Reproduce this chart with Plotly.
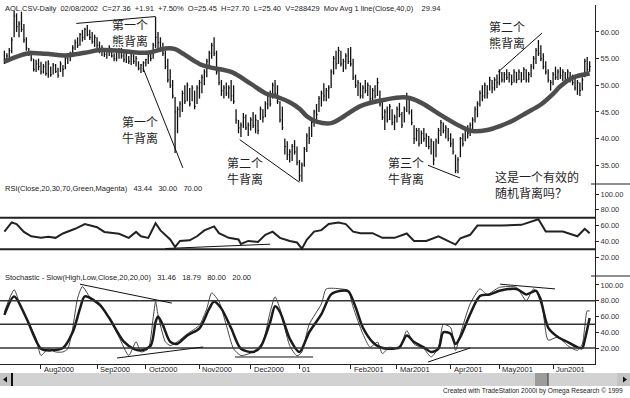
import pandas as pd
import plotly.graph_objects as go

# ---------------- data ----------------
HOLIDAYS = ["2000-09-04", "2000-11-23", "2000-12-25", "2001-01-01",
            "2001-01-15", "2001-02-19", "2001-04-13", "2001-05-28"]
sessions = pd.bdate_range("2000-07-11", periods=241, freq="C", holidays=HOLIDAYS)

month_labels = ["Aug2000", "Sep2000", "Oct2000", "Nov2000", "Dec2000", "01",
                "Feb2001", "Mar2001", "Apr2001", "May2001", "Jun2001"]

high = [
    56.5, 56.0, 57.0, 59.0, 64.0, 63.5, 62.0, 63.8, 61.5, 59.0,
    57.0, 56.5, 55.0, 54.8, 55.0, 54.4, 54.0, 54.5, 54.7, 53.5,
    54.2, 54.0, 53.3, 54.5, 53.8, 55.5, 56.0, 56.3, 57.5, 58.6,
    59.0, 59.8, 60.4, 60.8, 61.3, 60.4, 60.0, 59.5, 59.0, 58.2,
    57.5, 57.0, 56.8, 57.5, 57.0, 56.0, 56.5, 57.0, 57.0, 56.0,
    56.5, 55.5, 56.0, 55.8, 55.5, 54.5, 54.0, 54.5, 55.0, 56.0,
    56.0, 58.0, 62.8, 60.0, 59.0, 58.0, 56.5, 55.0, 53.0, 51.0,
    47.8, 46.0, 47.0, 49.0, 50.0, 50.5, 49.5, 50.0, 49.0, 50.0,
    51.0, 52.0, 53.0, 55.0, 56.5, 58.0, 59.0, 56.5, 53.0, 51.0,
    50.0, 50.5, 50.0, 51.0, 50.0, 45.5, 43.5, 43.0, 44.8, 44.5,
    43.0, 44.0, 45.0, 44.5, 43.5, 46.0, 45.5, 47.0, 48.5, 49.0,
    50.5, 51.0, 50.0, 47.0, 46.0, 40.0, 39.5, 38.0, 39.0, 39.7,
    38.5, 36.0, 35.5, 38.4, 41.0, 42.2, 43.5, 45.4, 46.5, 48.0,
    49.0, 50.4, 49.5, 50.0, 53.0, 55.5, 56.5, 57.2, 56.5, 55.0,
    56.0, 57.0, 57.2, 55.0, 52.0, 51.0, 50.5, 50.0, 51.0, 50.5,
    50.0, 49.5, 50.0, 51.4, 49.0, 47.0, 45.5, 46.0, 46.5, 45.5,
    44.5, 46.0, 46.7, 45.0, 46.0, 48.6, 48.0, 45.5, 42.5, 42.0,
    42.0, 41.5, 42.0, 41.0, 40.5, 40.0, 39.5, 40.0, 42.0, 43.5,
    43.0, 42.5, 42.0, 41.0, 40.0, 37.0, 36.5, 40.3, 41.0, 42.0,
    42.5, 43.0, 44.0, 46.0, 47.0, 49.0, 50.0, 50.5, 50.0, 51.6,
    51.0, 51.5, 52.0, 53.0, 52.5, 52.5, 53.0, 52.5, 52.0, 53.0,
    52.5, 53.0, 52.5, 53.4, 53.0, 52.5, 54.0, 55.5, 57.0, 58.5,
    57.5, 56.0, 54.5, 53.0, 51.0, 52.5, 53.5, 53.0, 53.4, 53.0,
    52.5, 53.0, 52.5, 52.0, 51.5, 51.0, 50.5, 51.5, 55.0, 55.3,
    54.5,
]
low = [
    54.0, 54.3, 54.5, 56.0, 59.0, 60.0, 59.0, 60.0, 58.0, 56.5,
    55.5, 54.5, 52.6, 52.5, 52.8, 52.0, 52.2, 51.8, 51.4, 51.6,
    52.0, 52.3, 51.4, 52.5, 51.6, 53.0, 54.0, 54.5, 55.5, 56.6,
    57.0, 57.4, 58.2, 58.5, 59.2, 58.5, 57.8, 57.2, 57.0, 56.0,
    55.5, 55.3, 55.0, 55.5, 55.2, 54.5, 54.5, 55.0, 55.0, 54.3,
    54.2, 54.0, 53.8, 54.0, 53.5, 52.8, 52.3, 52.5, 53.5, 54.0,
    54.5, 55.0, 57.0, 57.0, 56.5, 55.5, 53.0, 50.5, 49.5, 47.5,
    37.3, 41.0, 44.0, 45.0, 46.5, 47.0, 46.0, 47.0, 45.5, 46.5,
    47.5, 48.5, 50.0, 51.5, 53.5, 55.0, 55.5, 52.0, 50.0, 48.0,
    47.5, 48.0, 47.5, 47.0, 46.5, 42.8, 41.0, 40.3, 42.0, 41.6,
    40.5, 41.5, 42.0, 41.0, 40.8, 43.5, 43.0, 44.0, 45.5, 46.0,
    47.5, 48.0, 46.5, 43.0, 41.6, 37.0, 36.0, 35.5, 35.8, 37.0,
    35.0, 32.0, 31.9, 34.7, 37.5, 39.0, 40.3, 42.2, 43.5, 45.0,
    46.0, 47.0, 47.0, 47.5, 49.5, 52.0, 53.0, 54.0, 53.5, 52.5,
    53.0, 54.0, 53.5, 51.0, 49.5, 48.0, 47.5, 47.5, 48.5, 48.0,
    47.0, 47.0, 47.5, 48.0, 46.0, 43.5, 41.6, 43.0, 43.5, 42.5,
    41.6, 43.0, 44.0, 42.0, 43.0, 45.0, 44.5, 42.5, 39.0, 39.5,
    38.5, 39.0, 39.4, 38.4, 38.0, 37.0, 35.0, 36.5, 39.0, 40.5,
    41.0, 40.0, 39.5, 38.4, 37.0, 33.5, 33.5, 36.5, 38.5, 39.5,
    40.0, 40.5, 41.5, 43.0, 44.0, 46.0, 47.0, 47.5, 47.5, 49.0,
    48.5, 49.0, 49.5, 50.0, 50.5, 50.5, 51.0, 50.5, 50.0, 50.5,
    50.4, 51.0, 50.5, 51.0, 50.5, 50.5, 51.5, 53.0, 54.0, 55.5,
    54.5, 53.0, 52.0, 50.5, 49.0, 50.0, 51.0, 51.0, 51.2, 50.8,
    50.5, 51.0, 50.5, 50.0, 49.0, 48.2, 48.0, 49.0, 51.5, 52.5,
    52.5,
]
close = [
    55.0, 55.5, 56.5, 58.5, 63.0, 61.0, 61.5, 60.5, 58.5, 57.0,
    56.0, 55.0, 53.0, 54.0, 53.5, 52.5, 53.5, 52.2, 54.0, 52.0,
    53.8, 52.6, 51.8, 54.0, 53.0, 55.0, 55.5, 56.0, 57.0, 58.0,
    57.5, 59.5, 59.0, 60.5, 59.5, 59.0, 58.2, 59.0, 57.5, 56.5,
    57.0, 55.8, 56.5, 57.0, 55.5, 55.0, 56.2, 56.5, 55.5, 54.8,
    56.0, 54.5, 55.5, 54.5, 55.0, 53.2, 53.8, 54.2, 54.8, 55.5,
    55.0, 57.5, 59.0, 58.0, 57.0, 56.0, 53.5, 51.0, 50.0, 48.0,
    45.0, 45.5, 46.5, 48.5, 47.0, 50.0, 46.5, 49.5, 46.0, 49.5,
    50.5, 51.5, 52.5, 54.5, 56.0, 57.5, 56.0, 52.5, 50.5, 49.0,
    49.5, 48.5, 49.5, 48.0, 47.0, 43.5, 42.0, 42.5, 44.0, 42.0,
    42.5, 43.5, 42.5, 43.5, 41.5, 45.5, 44.0, 46.5, 48.0, 46.5,
    50.0, 48.5, 47.0, 43.5, 42.0, 38.5, 37.0, 37.5, 38.5, 37.5,
    35.5, 33.0, 35.0, 38.0, 40.5, 40.0, 43.0, 45.0, 44.5, 47.5,
    48.5, 48.0, 49.0, 49.5, 52.5, 55.0, 54.0, 56.5, 54.0, 54.5,
    55.5, 54.5, 54.0, 51.5, 50.0, 50.5, 48.0, 49.5, 49.0, 50.0,
    47.5, 49.0, 48.0, 50.5, 46.5, 44.0, 45.0, 43.5, 46.0, 43.0,
    44.0, 45.5, 44.5, 42.5, 45.5, 47.5, 45.0, 43.0, 40.0, 41.5,
    39.0, 41.0, 40.0, 40.5, 38.5, 39.5, 36.0, 39.5, 41.5, 43.0,
    41.5, 42.0, 40.0, 39.0, 37.5, 34.0, 36.0, 40.0, 39.0, 41.5,
    41.0, 42.5, 43.5, 45.5, 46.5, 48.5, 48.0, 50.0, 48.5, 51.0,
    49.5, 51.0, 50.5, 52.5, 51.0, 52.0, 51.5, 52.0, 50.5, 52.5,
    51.0, 52.5, 51.0, 53.0, 51.0, 52.0, 53.5, 55.0, 56.5, 56.0,
    55.0, 53.5, 52.5, 51.0, 50.5, 52.0, 51.5, 52.5, 51.8, 52.5,
    51.0, 52.5, 51.0, 50.5, 49.5, 50.5, 49.0, 51.0, 54.5, 53.0,
    53.5,
]

# 40-day moving average of the close, read at selected sessions
ma_idx = [0, 4, 10, 17, 25, 33, 39, 47, 56, 60, 66, 70, 73, 80, 84, 93, 101,
          107, 112, 117, 121, 124, 128, 134, 138, 146, 156, 165, 171, 179,
          187, 192, 198, 203, 209, 214, 220, 225, 228, 233, 240]
ma_val = [54.4, 55.2, 56.0, 55.9, 55.6, 56.1, 56.6, 56.5, 56.1, 56.2, 56.9,
          56.8, 56.0, 54.0, 53.4, 52.5, 50.3, 48.5, 47.8, 46.8, 45.6, 44.2,
          43.2, 42.9, 43.8, 46.1, 47.3, 47.7, 46.7, 44.4, 42.3, 41.4, 41.6,
          42.3, 43.5, 44.8, 46.4, 48.4, 49.8, 51.4, 52.2]

# RSI(20)
rsi_idx = [0, 3, 5, 8, 11, 15, 18, 21, 24, 29, 33, 38, 41, 44, 47, 51, 54,
           56, 59, 62, 64, 68, 70, 72, 76, 79, 82, 86, 88, 92, 96, 97, 100,
           104, 107, 110, 113, 117, 120, 122, 124, 127, 130, 133, 137, 140,
           143, 146, 151, 155, 160, 165, 168, 173, 178, 185, 187, 191, 194,
           199, 204, 212, 219, 222, 229, 235, 238, 240]
rsi_val = [52.4, 64, 62, 52, 46.5, 44.5, 46, 44.5, 50, 56, 62, 58, 52, 50.5,
           49.6, 44.5, 52, 46.5, 44.5, 63, 54, 42.5, 33, 40.6, 41.4, 46.5, 54,
           59, 50.4, 44.5, 42.5, 36.7, 40.6, 39.4, 48.4, 52.4, 44.5, 40.6,
           38.6, 30.8, 42, 52.4, 54.3, 62, 64, 62, 52.4, 50.4, 50.4, 44.5,
           44.5, 50, 40.6, 40.6, 46.5, 36, 44, 48.4, 60, 60, 60, 61, 68, 52.4,
           52.4, 46.5, 56, 50.4]

# Slow stochastic: %K (thin) and %D (thick)
k_idx = [0, 4, 6, 9, 13, 15, 18, 21, 24, 26, 28, 30, 32, 35, 39, 43, 47, 51,
         54, 56, 59, 61, 62, 63, 66, 68, 71, 75, 80, 83, 85, 88, 91, 94, 97,
         102, 106, 109, 111, 113, 117, 120, 122, 125, 130, 132, 138, 141, 143,
         147, 150, 153, 155, 158, 162, 165, 168, 172, 175, 178, 180, 183, 185,
         187, 191, 195, 198, 203, 210, 214, 217, 220, 223, 227, 231, 235, 237,
         239, 240]
k_val = [66, 94, 79, 58, 32, 10.5, 19, 15, 15, 19, 45, 83, 98, 85, 77, 58, 34,
         10.5, 28, 15, 19, 58, 79, 62, 28, 23, 28, 38, 49, 70, 90, 79, 49, 19,
         10.5, 15, 28, 66, 85, 70, 23, 10, 15, 50, 76, 95, 95, 93, 72, 38, 21,
         27.5, 13, 21, 19, 42, 25, 19, 8.6, 21, 50, 46, 17, 38, 76, 95, 88, 97,
         97, 80, 95, 84, 30, 34, 23, 17, 25, 67, 67]
d_idx = [0, 4, 9, 15, 19, 24, 28, 31, 33, 39, 43, 49, 53, 56, 60, 62, 63, 65,
         68, 71, 75, 80, 84, 86, 89, 93, 97, 102, 105, 109, 111, 113, 117,
         121, 125, 130, 134, 138, 141, 144, 147, 151, 154, 158, 162, 165, 168,
         172, 175, 178, 180, 183, 185, 187, 191, 195, 199, 203, 210, 214, 218,
         220, 223, 227, 231, 235, 237, 238, 240]
d_val = [62, 85.5, 58, 19, 17, 20, 40, 70, 85.5, 75, 58, 28, 19, 17, 23, 53,
         60, 49, 28, 25.5, 36, 45, 70, 79, 70, 45, 19, 15, 21, 53, 73, 66, 32,
         15, 40, 63, 88, 92.6, 92, 72, 46, 27.5, 21, 19, 21, 36, 27.5, 21, 15,
         19, 40, 38, 25, 34, 63, 86, 88, 92.6, 95, 88, 92.6, 80, 46, 34, 27.5,
         21, 20, 30, 58]

price_ticks = [35, 40, 45, 50, 55, 60]
osc_ticks = [20, 40, 60, 80, 100]
rsi_bands = [30, 70]
stoch_bands = [20, 50, 80]

# divergence trendlines: (session0, value0, session1, value1)
price_lines = [(29.5, 61.6, 62.0, 62.9), (56.9, 53.2, 73.2, 34.5),
               (96.5, 39.8, 121.0, 31.8), (173.7, 35.0, 186.9, 32.6),
               (202.5, 52.5, 220.5, 59.8)]
rsi_lines = [(66.0, 31.0, 109.0, 36.5)]
stoch_lines = [(31.0, 101.0, 68.7, 77.0), (46.2, 7.3, 81.5, 21.3),
               (94.6, 8.6, 126.6, 8.6), (173.7, 2.2, 191.0, 20.0),
               (203.3, 101.0, 225.8, 95.0)]

header = ("AOL.CSV-Daily  02/08/2002  C=27.36  +1.91  +7.50%  O=25.45  "
          "H=27.70  L=25.40  V=288429  Mov Avg 1 line(Close,40,0)    29.94")
rsi_title = "RSI(Close,20,30,70,Green,Magenta)   43.44   30.00   70.00"
stoch_title = "Stochastic - Slow(High,Low,Close,20,20,00)   31.46   18.79   80.00   20.00"
footer = "Created with TradeStation 2000i by Omega Research \u00a9 1999"

# ---------------- geometry helpers (pixel -> paper) ----------------
W, H = 630, 398
ML, MR, MT, MB = 0, 35, 5, 34
PW, PH = W - ML - MR, H - MT - MB


def px(x):
    return (x - ML) / PW


def py(y):
    return (H - MB - y) / PH


# month-start sessions for the date axis
month_idx = []
for i in range(1, len(sessions)):
    if sessions[i].month != sessions[i - 1].month:
        month_idx.append(i)

fig = go.Figure()

# HLC bars
bx, by, cx, cy = [], [], [], []
for i, (h, l, c) in enumerate(zip(high, low, close)):
    bx += [i, i, None]
    by += [l, h, None]
    cx += [i, i + 0.45, None]
    cy += [c, c, None]
fig.add_trace(go.Scatter(x=bx, y=by, mode="lines",
                         line=dict(color="#111111", width=1.3),
                         xaxis="x", yaxis="y", hoverinfo="skip"))
fig.add_trace(go.Scatter(x=cx, y=cy, mode="lines",
                         line=dict(color="#111111", width=1),
                         xaxis="x", yaxis="y", hoverinfo="skip"))
fig.add_trace(go.Scatter(x=ma_idx, y=ma_val, mode="lines",
                         line=dict(color="#4d4d4d", width=4.5, shape="spline",
                                   smoothing=1.0),
                         xaxis="x", yaxis="y"))

# RSI panel
fig.add_trace(go.Scatter(x=rsi_idx, y=rsi_val, mode="lines",
                         line=dict(color="#222222", width=2),
                         xaxis="x", yaxis="y2"))

# Stochastic panel
fig.add_trace(go.Scatter(x=k_idx, y=k_val, mode="lines",
                         line=dict(color="#444444", width=1, shape="spline",
                                   smoothing=0.6),
                         xaxis="x", yaxis="y3"))
fig.add_trace(go.Scatter(x=d_idx, y=d_val, mode="lines",
                         line=dict(color="#1a1a1a", width=2.5, shape="spline",
                                   smoothing=0.8),
                         xaxis="x", yaxis="y3"))

shapes = []
for v in rsi_bands:
    shapes.append(dict(type="line", xref="paper", x0=0, x1=1, yref="y2",
                       y0=v, y1=v, line=dict(color="#222222", width=2)))
for v in stoch_bands:
    shapes.append(dict(type="line", xref="paper", x0=0, x1=1, yref="y3",
                       y0=v, y1=v, line=dict(color="#333333", width=1.5)))
for x0, y0, x1, y1 in price_lines:
    shapes.append(dict(type="line", xref="x", yref="y", x0=x0, y0=y0,
                       x1=x1, y1=y1, line=dict(color="#111111", width=1)))
for x0, y0, x1, y1 in rsi_lines:
    shapes.append(dict(type="line", xref="x", yref="y2", x0=x0, y0=y0,
                       x1=x1, y1=y1, line=dict(color="#111111", width=1)))
for x0, y0, x1, y1 in stoch_lines:
    shapes.append(dict(type="line", xref="x", yref="y3", x0=x0, y0=y0,
                       x1=x1, y1=y1, line=dict(color="#111111", width=1)))

# panel separators in the scale area
for yy in (184, 276):
    shapes.append(dict(type="line", xref="paper", yref="paper",
                       x0=px(591), x1=px(630), y0=py(yy), y1=py(yy),
                       line=dict(color="#222222", width=1.2)))

# scroll bar under the date axis
sb_top, sb_bot = py(373), py(386)
shapes.append(dict(type="rect", xref="paper", yref="paper", x0=px(0),
                   x1=px(630), y0=sb_bot, y1=sb_top,
                   fillcolor="#d2d2d2", line=dict(width=0)))
shapes.append(dict(type="rect", xref="paper", yref="paper", x0=px(0),
                   x1=px(11), y0=sb_bot, y1=sb_top,
                   fillcolor="#c4c4c4", line=dict(width=0)))
shapes.append(dict(type="line", xref="paper", yref="paper", x0=px(12),
                   x1=px(12), y0=sb_bot, y1=sb_top,
                   line=dict(color="#111111", width=2)))
shapes.append(dict(type="path", xref="paper", yref="paper",
                   path=f"M {px(3)},{py(379.5)} L {px(7)},{py(376.5)} "
                        f"L {px(7)},{py(382.5)} Z",
                   fillcolor="#111111", line=dict(width=0)))
shapes.append(dict(type="rect", xref="paper", yref="paper", x0=px(535),
                   x1=px(548), y0=sb_bot, y1=sb_top,
                   fillcolor="#9c9c9c", line=dict(width=0)))
shapes.append(dict(type="line", xref="paper", yref="paper", x0=px(548),
                   x1=px(548), y0=sb_bot, y1=sb_top,
                   line=dict(color="#333333", width=1)))
shapes.append(dict(type="rect", xref="paper", yref="paper", x0=px(617),
                   x1=px(630), y0=sb_bot, y1=sb_top,
                   fillcolor="#c4c4c4", line=dict(width=0)))
shapes.append(dict(type="path", xref="paper", yref="paper",
                   path=f"M {px(627)},{py(379.5)} L {px(623)},{py(376.5)} "
                        f"L {px(623)},{py(382.5)} Z",
                   fillcolor="#111111", line=dict(width=0)))

SANS = "Liberation Sans, Arial, sans-serif"
CJK = "Noto Sans CJK SC"
annotations = []


def label(text, x, y, size=8, anchor="left", family=SANS, color="#222222"):
    annotations.append(dict(text=text, x=px(x), y=py(y), xref="paper",
                            yref="paper", xanchor=anchor, yanchor="middle",
                            align=anchor if anchor != "right" else "right",
                            showarrow=False, font=dict(size=size, family=family,
                                                       color=color)))


label(header, 3, 8.5, size=7.5)
label(rsi_title, 3, 188, size=7.5)
label(stoch_title, 3, 277.5, size=7.5)
label(footer, 625, 391, size=6.6, anchor="right")

# two-line Chinese notes: (text, x, y of block centre, anchor)
cjk_notes = [("第一个<br>熊背离", 130, 32.5, "center"),
             ("第一个<br>牛背离", 140, 129, "center"),
             ("第二个<br>牛背离", 245, 170, "center"),
             ("第三个<br>牛背离", 406, 170, "center"),
             ("这是一个有效的<br>随机背离吗？", 493, 184, "left"),
             ("第二个<br>熊背离", 487, 35, "left")]
for t, x, y, a in cjk_notes:
    label(t, x, y, size=12, anchor=a, family=CJK, color="#1e1e1e")

for idx, name in zip(month_idx, month_labels):
    annotations.append(dict(text=name, x=idx + 0.4, xref="x", y=py(369.5),
                            yref="paper", xanchor="left", yanchor="middle",
                            showarrow=False,
                            font=dict(size=7.5, family=SANS, color="#222222")))

tickfont = dict(size=7.5, family=SANS, color="#333333")
yax_common = dict(side="right", anchor="x", showline=True, linecolor="#222222",
                  linewidth=1, ticks="outside", ticklen=3, tickcolor="#222222",
                  tickformat=".2f", showgrid=False, zeroline=False,
                  tickfont=tickfont, fixedrange=True)

fig.update_layout(
    width=W, height=H,
    margin=dict(l=ML, r=MR, t=MT, b=MB, autoexpand=False),
    paper_bgcolor="white", plot_bgcolor="white", showlegend=False,
    xaxis=dict(domain=[0, 1], range=[-1.8, 242.2], anchor="y3",
               showline=True, linecolor="#222222", linewidth=1,
               ticks="outside", ticklen=4, tickcolor="#222222",
               tickvals=month_idx, showticklabels=False, showgrid=False,
               zeroline=False),
    yaxis=dict(domain=[py(184), 1], range=[31.48, 65.06],
               tickvals=price_ticks, **yax_common),
    yaxis2=dict(domain=[py(276), py(184)], range=[-3.8, 112.7],
                tickvals=osc_ticks, **yax_common),
    yaxis3=dict(domain=[0, py(276)], range=[-0.3, 111.4],
                tickvals=osc_ticks, **yax_common),
    shapes=shapes,
    annotations=annotations,
)

fig.write_html("out.html")
